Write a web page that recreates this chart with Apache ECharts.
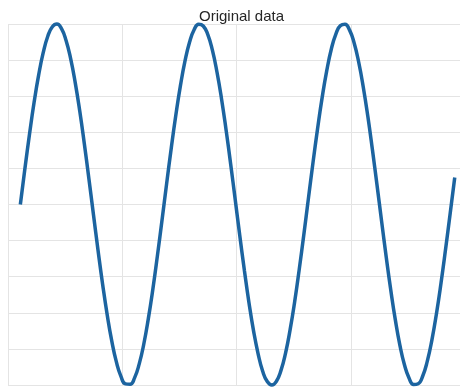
<!DOCTYPE html>
<html>
<head>
<meta charset="utf-8">
<script src="https://cdn.jsdelivr.net/npm/echarts@6/dist/echarts.min.js"></script>
<style>html,body{margin:0;padding:0;background:#fff}#c{width:460px;height:391px}</style>
</head>
<body>
<div id="c"></div>
<script>
const titleText = 'Original data';
const xs = [0.54,0.74,0.94,1.14,1.34,1.54,1.74,1.94,2.14,2.34,
2.54,2.74,2.94,3.14,3.34,3.54,3.74,3.94,4.14,4.34,
4.54,4.74,4.94,5.14,5.34,5.54,5.74,5.94,6.14,6.34,
6.54,6.74,6.94,7.14,7.34,7.54,7.74,7.94,8.14,8.34,
8.54,8.74,8.94,9.14,9.34,9.54,9.74,9.94,10.14,10.34,
10.54,10.74,10.94,11.14,11.34,11.54,11.74,11.94,12.14,12.34,
12.54,12.74,12.94,13.14,13.34,13.54,13.74,13.94,14.14,14.34,
14.54,14.74,14.94,15.14,15.34,15.54,15.74,15.94,16.14,16.34,
16.54,16.74,16.94,17.14,17.34,17.54,17.74,17.94,18.14,18.34,
18.54,18.74,18.94,19.14,19.34,19.54];
const ys = [0, 0.199, 0.389, 0.565, 0.717, 0.841, 0.932, 0.985, 1.000, 0.974,
0.909, 0.808, 0.675, 0.516, 0.335, 0.141, -0.058, -0.256, -0.443, -0.612,
-0.757, -0.872, -0.952, -0.994, -0.996, -0.959, -0.883, -0.773, -0.631, -0.465,
-0.279, -0.083, 0.117, 0.312, 0.494, 0.657, 0.794, 0.899, 0.968, 0.999,
0.989, 0.941, 0.855, 0.734, 0.585, 0.412, 0.223, 0.025, -0.174, -0.366,
-0.544, -0.700, -0.827, -0.924, -0.981, -1.000, -0.979, -0.919, -0.823, -0.693,
-0.537, -0.358, -0.166, 0.034, 0.232, 0.420, 0.592, 0.740, 0.860, 0.944,
0.991, 0.998, 0.966, 0.895, 0.788, 0.650, 0.487, 0.303, 0.108, -0.092,
-0.288, -0.472, -0.638, -0.779, -0.888, -0.961, -0.997, -0.993, -0.950, -0.868,
-0.751, -0.605, -0.435, -0.247, -0.050, 0.150];

const chart = echarts.init(document.getElementById('c'), null, {renderer: 'canvas'});
chart.setOption({
  animation: false,
  title: {
    text: titleText, left: 194, top: 4,
    textStyle: {fontFamily: 'Liberation Sans, Arial, sans-serif', fontSize: 15, fontWeight: 'normal', color: '#262626'}
  },
  grid: {left: 8, right: 0, top: 24, bottom: 6, containLabel: false},
  xAxis: {
    type: 'value', min: 0, max: 19.77, interval: 5,
    axisLine: {show: false}, axisTick: {show: false}, axisLabel: {show: false},
    splitLine: {show: true, lineStyle: {color: '#e4e4e4', width: 1}}
  },
  yAxis: {
    type: 'value', min: -1, max: 1, interval: 0.2,
    axisLine: {show: false}, axisTick: {show: false}, axisLabel: {show: false},
    splitLine: {show: true, lineStyle: {color: '#e4e4e4', width: 1}}
  },
  series: [{
    type: 'line',
    data: xs.map((x, i) => [x, ys[i]]),
    smooth: true,
    showSymbol: false,
    clip: false,
    lineStyle: {color: '#1c64a0', width: 3.5}
  }]
});
</script>
</body>
</html>
